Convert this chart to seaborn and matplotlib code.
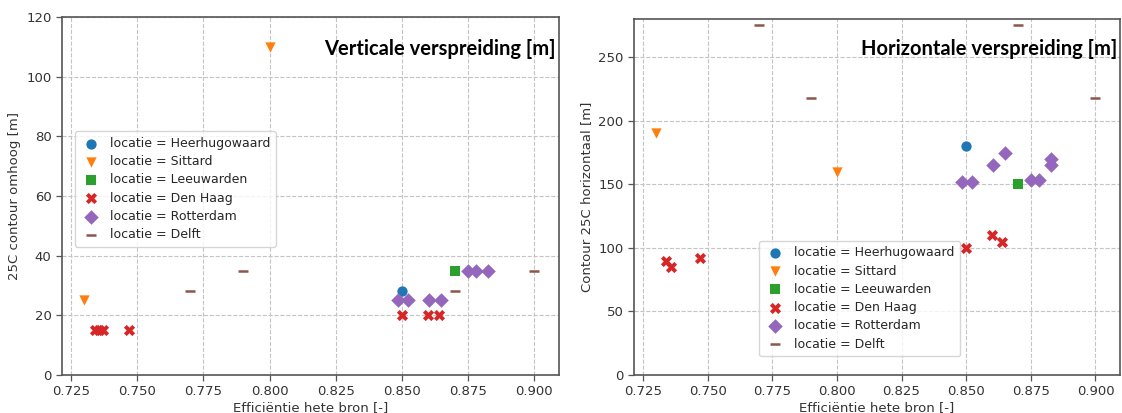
import matplotlib
matplotlib.use("Agg")
import matplotlib.pyplot as plt
import seaborn as sns
import pandas as pd

# ---- data ----
locations = ["Heerhugowaard", "Sittard", "Leeuwarden", "Den Haag", "Rotterdam", "Delft"]
markers = ["o", "v", "s", "X", "D", "_"]
colors = ["#1f77b4", "#ff7f0e", "#2ca02c", "#d62728", "#9467bd", "#8c564b"]

# vertical spreading (left panel)
heer_xv = [0.85]
heer_v = [28]
sitt_xv = [0.73, 0.80]
sitt_v = [25, 110]
leeu_xv = [0.87]
leeu_v = [35]
denh_xv = [0.734, 0.7355, 0.737, 0.747, 0.85, 0.86, 0.864]
denh_v = [15, 15, 15, 15, 20, 20, 20]
rott_xv = [0.8485, 0.8523, 0.8602, 0.865, 0.875, 0.878, 0.8827]
rott_v = [25, 25, 25, 25, 35, 35, 35]
delf_xv = [0.77, 0.79, 0.87, 0.90]
delf_v = [28, 35, 28, 35]

# horizontal spreading (right panel)
heer_xh = [0.85]
heer_h = [180]
sitt_xh = [0.73, 0.80]
sitt_h = [190, 160]
leeu_xh = [0.87]
leeu_h = [150]
denh_xh = [0.734, 0.736, 0.747, 0.85, 0.86, 0.864]
denh_h = [90, 85, 92, 100, 110, 105]
rott_xh = [0.8485, 0.8523, 0.8602, 0.865, 0.875, 0.878, 0.8827, 0.8827]
rott_h = [152, 152, 165, 175, 153, 153, 170, 165]
delf_xh = [0.77, 0.79, 0.87, 0.90]
delf_h = [275, 218, 275, 218]

vert = [(heer_xv, heer_v), (sitt_xv, sitt_v), (leeu_xv, leeu_v),
        (denh_xv, denh_v), (rott_xv, rott_v), (delf_xv, delf_v)]
horz = [(heer_xh, heer_h), (sitt_xh, sitt_h), (leeu_xh, leeu_h),
        (denh_xh, denh_h), (rott_xh, rott_h), (delf_xh, delf_h)]

x_label = "Efficiëntie hete bron [-]"
ylabel_v = "25C contour omhoog [m]"
ylabel_h = "Contour 25C horizontaal [m]"
title_v = "Verticale verspreiding [m]"
title_h = "Horizontale verspreiding [m]"
yticks_v = [0, 20, 40, 60, 80, 100, 120]
yticks_h = [0, 50, 100, 150, 200, 250]
xticks = [0.725, 0.75, 0.775, 0.80, 0.825, 0.85, 0.875, 0.90]

sns.set_style("ticks")
plt.rcParams["font.family"] = ["DejaVu Sans"]
plt.rcParams["axes.edgecolor"] = "#555555"
plt.rcParams["xtick.color"] = "#555555"
plt.rcParams["ytick.color"] = "#555555"
plt.rcParams["xtick.labelcolor"] = "#333333"
plt.rcParams["ytick.labelcolor"] = "#333333"
plt.rcParams["axes.labelcolor"] = "#333333"

fig = plt.figure(figsize=(11.22, 4.13), dpi=100)
ax1 = fig.add_axes([62 / 1122, 38 / 413, 497 / 1122, 358 / 413])
ax2 = fig.add_axes([634 / 1122, 38 / 413, 486 / 1122, 356 / 413])


def draw(ax, series):
    for loc, m, c, (xs, ys) in zip(locations, markers, colors, series):
        df = pd.DataFrame({"x": xs, "y": ys})
        if m == "_":
            sns.scatterplot(data=df, x="x", y="y", marker=m, color=c, s=55,
                            linewidth=1.8, edgecolor=c, ax=ax, zorder=3,
                            label="locatie = " + loc)
        else:
            sns.scatterplot(data=df, x="x", y="y", marker=m, color=c,
                            s=65 if m == "X" else 55,
                            linewidth=0, ax=ax, zorder=3,
                            label="locatie = " + loc)
    ax.grid(True, linestyle="--", color="#c4c4c4", linewidth=0.8)
    ax.set_axisbelow(True)
    ax.set_xlim(0.7215, 0.9095)
    ax.set_xticks(xticks)
    ax.set_xticklabels([f"{t:.3f}" for t in xticks])
    ax.tick_params(labelsize=9.5, length=4, width=0.9)
    ax.set_xlabel(x_label, fontsize=9.5, labelpad=2)
    for s in ax.spines.values():
        s.set_linewidth(1.2)


legend_kw = dict(loc="lower left", borderaxespad=0, fontsize=9, frameon=True,
                 handletextpad=0.75, labelspacing=0.42, borderpad=0.45,
                 handlelength=1.6)

draw(ax1, vert)
ax1.set_ylim(0, 120)
ax1.set_yticks(yticks_v)
ax1.set_ylabel(ylabel_v, fontsize=9.5)
ax1.legend(bbox_to_anchor=(0.026, 0.358), **legend_kw)
ax1.text(0.994, 0.912, title_v, transform=ax1.transAxes, ha="right", va="center",
         fontsize=14.5, fontweight="bold", family=["Lato", "DejaVu Sans"], color="black")

draw(ax2, horz)
ax2.set_ylim(0, 280)
ax2.set_yticks(yticks_h)
ax2.set_ylabel(ylabel_h, fontsize=9.5)
ax2.legend(bbox_to_anchor=(0.258, 0.053), **legend_kw)
ax2.text(0.994, 0.915, title_h, transform=ax2.transAxes, ha="right", va="center",
         fontsize=14.5, fontweight="bold", family=["Lato", "DejaVu Sans"], color="black")

fig.savefig("out.png", dpi=100)
